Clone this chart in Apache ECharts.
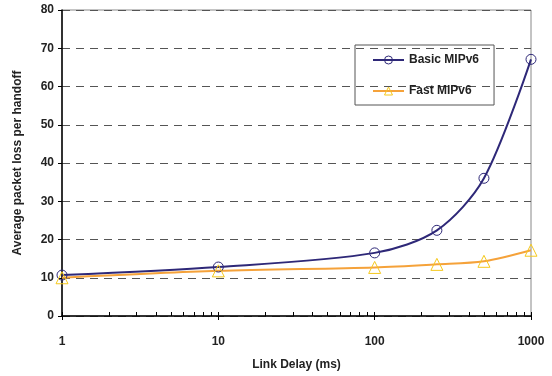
<!DOCTYPE html>
<html><head><meta charset="utf-8">
<script src="https://cdn.jsdelivr.net/npm/echarts@6/dist/echarts.min.js"></script>
<style>html,body{margin:0;padding:0;background:#fff}#c{width:552px;height:376px}</style>
</head><body><div id="c"></div>
<script>
const delays = [1, 10, 100, 250, 500, 1000];
const basicMIPv6 = [10.7, 12.8, 16.5, 22.4, 36, 67.1];
const fastMIPv6 = [10.0, 11.8, 12.7, 13.5, 14.3, 17.2];
const minorTicks = [2,3,4,5,6,7,8,9,20,30,40,50,60,70,80,90,200,300,400,500,600,700,800,900];
const majorTicks = [1, 10, 100, 1000];

const font = 'Liberation Sans, Arial, sans-serif';
const basicColor = '#2e2878', fastLine = '#f5a23a', fastMarker = '#f5c81c';
const chart = echarts.init(document.getElementById('c'));
chart.setOption({
  animation: false,
  textStyle: {fontFamily: font},
  grid: {left: 62, right: 21, top: 10, bottom: 55, show: true, borderColor: '#888', borderWidth: 1, backgroundColor: '#fff'},
  legend: {
    orient: 'vertical', left: 355, top: 45, width: 141,
    borderColor: '#555', borderWidth: 1, padding: [9, 15, 8, 17], itemGap: 19,
    itemWidth: 31, itemHeight: 10,
    textStyle: {fontFamily: font, fontWeight: 'bold', fontSize: 12, color: '#222'},
    data: [
      {name: 'Basic MIPv6', itemStyle: {color: 'rgba(255,255,255,0)', borderColor: basicColor, borderWidth: 1}},
      {name: 'Fast MIPv6', itemStyle: {color: 'rgba(255,255,255,0)', borderColor: fastMarker, borderWidth: 1}}
    ]
  },
  xAxis: [{
    type: 'log', logBase: 10, min: 1, max: 1000,
    name: 'Link Delay (ms)', nameLocation: 'middle', nameGap: 43,
    nameTextStyle: {fontFamily: font, fontWeight: 'bold', fontSize: 12, color: '#222'},
    axisLine: {lineStyle: {color: '#000', width: 1.5}},
    axisTick: {show: true, length: 4, inside: false, lineStyle: {color: '#000'}},
    axisLabel: {fontFamily: font, fontWeight: 'bold', fontSize: 12, color: '#222', margin: 20, formatter: v => String(Math.round(v))},
    splitLine: {show: false}
  }, {
    type: 'log', logBase: 10, min: 1, max: 1000, position: 'bottom',
    axisLine: {show: false},
    axisTick: {show: true, inside: true, length: 4, customValues: minorTicks.concat(majorTicks), lineStyle: {color: '#000'}},
    axisLabel: {show: false},
    splitLine: {show: false}
  }],
  yAxis: {
    type: 'value', min: 0, max: 80, interval: 10,
    name: 'Average packet loss per handoff', nameLocation: 'middle', nameGap: 38, nameRotate: 90,
    nameTextStyle: {fontFamily: font, fontWeight: 'bold', fontSize: 12, color: '#222'},
    axisLine: {show: true, lineStyle: {color: '#000', width: 1.5}},
    axisTick: {show: true, length: 4, lineStyle: {color: '#000'}},
    axisLabel: {fontFamily: font, fontWeight: 'bold', fontSize: 12, color: '#222', margin: 8},
    splitLine: {show: true, lineStyle: {color: '#555', type: [8, 6], width: 1}}
  },
  series: [{
    name: 'Basic MIPv6', type: 'line', smooth: 0.3,
    data: delays.map((d, i) => [d, basicMIPv6[i]]),
    symbol: 'circle', symbolSize: 10,
    itemStyle: {color: 'rgba(255,255,255,0)', borderColor: basicColor, borderWidth: 1},
    lineStyle: {color: basicColor, width: 2}
  }, {
    name: 'Fast MIPv6', type: 'line', smooth: 0.3,
    data: delays.map((d, i) => [d, fastMIPv6[i]]),
    symbol: 'triangle', symbolSize: 12,
    itemStyle: {color: 'rgba(255,255,255,0)', borderColor: fastMarker, borderWidth: 1},
    lineStyle: {color: fastLine, width: 2}
  }]
});
</script></body></html>
